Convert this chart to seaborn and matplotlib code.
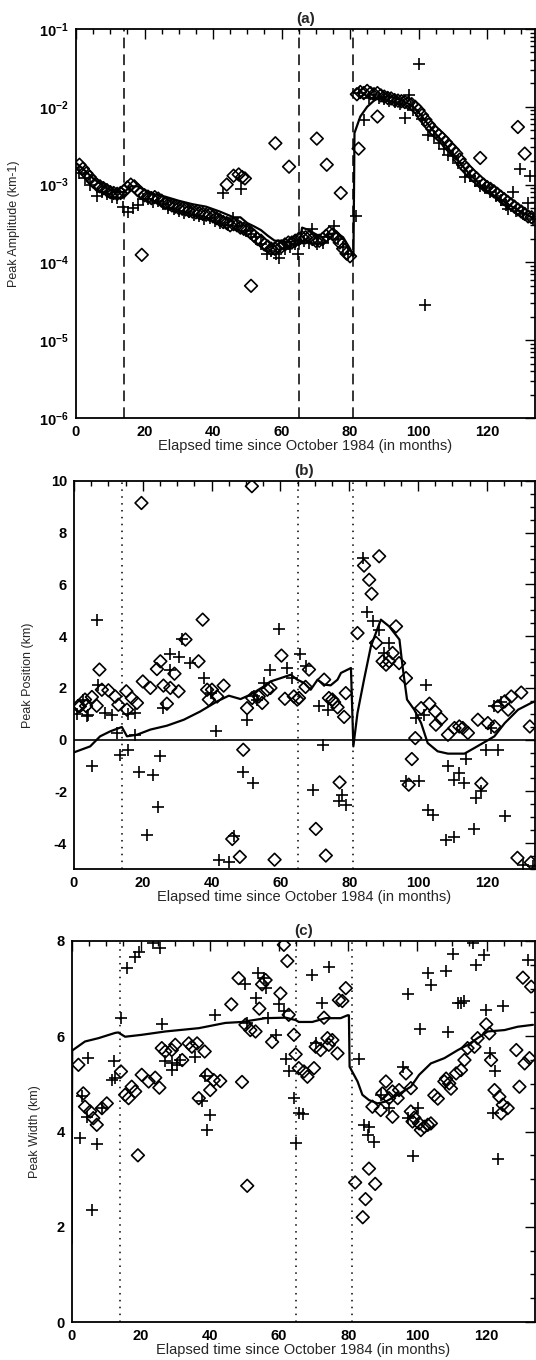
import matplotlib
matplotlib.use("Agg")
import matplotlib.pyplot as plt
from matplotlib.ticker import MultipleLocator, LogLocator, NullFormatter
import seaborn as sns
import numpy as np

# ---------------- data ----------------
event_months = [14, 65, 81]

# (a) Peak amplitude
a_diam_x = [1, 2, 3, 4, 5, 6, 7, 8, 9, 10, 11, 12, 13, 14, 15, 16, 17, 18, 19, 20,
            21, 22, 23, 24, 25, 26, 27, 28, 29, 30, 31, 32, 33, 34, 35, 36, 37, 38, 39, 40,
            41, 42, 43, 44, 45, 46, 47, 48, 49, 50, 51, 52, 53, 54, 55, 56, 57, 58, 59, 60,
            61, 62, 63, 64, 65, 66, 67, 68, 69, 70, 71, 72, 73, 74, 75, 76, 77, 78, 79, 80,
            82, 83, 84, 85, 86, 87, 88, 89, 90, 91, 92, 93, 94, 95, 96, 97, 98, 99, 100,
            101, 102, 103, 104, 105, 106, 107, 108, 109, 110, 111, 112, 113, 114, 115, 116,
            117, 118, 119, 120, 121, 122, 123, 124, 125, 126, 127, 128, 129, 130, 131, 132, 133,
            19.2, 51.1, 44, 46, 47.5, 48.5, 49.3, 58.2, 62.2, 70.3, 73.2, 77.3, 82.5, 88,
            118, 129, 131]
a_diam_y = [1.8e-3, 1.6e-3, 1.4e-3, 1.25e-3, 1.1e-3, 1.0e-3, 9.5e-4, 9e-4, 8.5e-4, 8e-4,
            7.8e-4, 7.6e-4, 7.8e-4, 8.2e-4, 9.2e-4, 1.0e-3, 9.5e-4, 8.5e-4, 7.8e-4, 7.3e-4,
            7e-4, 6.7e-4, 6.9e-4, 6.6e-4, 6.2e-4, 5.8e-4, 5.6e-4, 5.4e-4, 5.2e-4, 5e-4,
            4.9e-4, 4.8e-4, 4.6e-4, 4.5e-4, 4.4e-4, 4.3e-4, 4.2e-4, 4.1e-4, 4.1e-4, 3.9e-4,
            3.7e-4, 3.5e-4, 3.3e-4, 3.2e-4, 3.0e-4, 3.1e-4, 3.0e-4, 2.8e-4, 2.7e-4, 2.6e-4,
            2.4e-4, 2.2e-4, 2.0e-4, 1.9e-4, 1.7e-4, 1.6e-4, 1.5e-4, 1.5e-4, 1.6e-4, 1.6e-4,
            1.7e-4, 1.8e-4, 1.8e-4, 1.9e-4, 2.0e-4, 2.1e-4, 2.1e-4, 2.1e-4, 2.0e-4, 1.9e-4,
            1.9e-4, 2.0e-4, 2.2e-4, 2.4e-4, 2.3e-4, 2.1e-4, 1.8e-4, 1.5e-4, 1.3e-4, 1.2e-4,
            1.45e-2, 1.55e-2, 1.5e-2, 1.6e-2, 1.5e-2, 1.45e-2, 1.5e-2, 1.4e-2, 1.35e-2, 1.3e-2,
            1.28e-2, 1.22e-2, 1.2e-2, 1.18e-2, 1.15e-2, 1.12e-2, 1.08e-2, 1.0e-2, 9e-3,
            7.8e-3, 6.8e-3, 5.9e-3, 5.2e-3, 4.7e-3, 4.3e-3, 3.9e-3, 3.5e-3, 3.1e-3, 2.8e-3,
            2.5e-3, 2.1e-3, 1.8e-3, 1.6e-3, 1.45e-3, 1.3e-3, 1.2e-3, 1.08e-3, 1.0e-3, 9.3e-4,
            8.8e-4, 8.2e-4, 7.6e-4, 7e-4, 6.5e-4, 6e-4, 5.6e-4, 5.2e-4, 4.8e-4, 4.5e-4,
            4.2e-4, 3.9e-4, 3.8e-4,
            1.25e-4, 5e-5, 1.0e-3, 1.3e-3, 1.35e-3, 1.25e-3, 1.2e-3, 3.4e-3, 1.7e-3, 3.9e-3,
            1.8e-3, 7.8e-4, 2.9e-3, 7.5e-3, 2.2e-3, 5.5e-3, 2.5e-3]

a_plus_x = [1, 2.5, 4, 6, 7.5, 9, 10.5, 12, 13.8, 15.2, 16.7, 18.1, 19.5, 21, 22.5, 24,
            25.5, 27, 28.5, 30, 31.5, 33, 34.5, 36, 37.5, 39, 40.5, 42, 43, 44.5, 45.7, 47,
            48.2, 49.5, 51, 52.5, 54, 55.9, 57, 58.5, 59.4, 61, 62.5, 64, 64.9, 66.5, 68, 69,
            70.5, 72, 73.5, 75.3, 76.5, 78, 79.5, 81.8,
            82.5, 84, 85.5, 87, 88.5, 90, 91.5, 93, 94.5, 96.1, 97.1, 98.5, 100, 101, 102,
            102.9, 104.5, 106, 107.5, 108.7, 110, 111.5, 113.6, 115, 116.5, 118, 119.5, 121,
            122.5, 124, 125.5, 126.2, 127.5, 128.5, 129.7, 130.5, 132, 132.5, 133.5]
a_plus_y = [1.4e-3, 1.2e-3, 1.0e-3, 7.2e-4, 8e-4, 7.5e-4, 7e-4, 6.8e-4, 5.2e-4, 4.5e-4,
            5e-4, 5.5e-4, 6.5e-4, 6.5e-4, 6e-4, 6.2e-4, 5.6e-4, 5e-4, 4.8e-4, 4.6e-4, 4.3e-4,
            4.4e-4, 4.1e-4, 3.9e-4, 3.6e-4, 3.7e-4, 3.4e-4, 3.2e-4, 7.7e-4, 3.0e-4, 3.7e-4,
            2.9e-4, 8.9e-4, 2.5e-4, 2.3e-4, 2.1e-4, 1.7e-4, 1.3e-4, 1.4e-4, 1.3e-4, 1.15e-4,
            1.5e-4, 1.6e-4, 1.7e-4, 1.3e-4, 1.9e-4, 1.8e-4, 2.7e-4, 1.7e-4, 1.8e-4, 2.1e-4,
            2.9e-4, 2.0e-4, 1.6e-4, 1.3e-4, 4e-4,
            1.5e-2, 6.8e-3, 1.3e-2, 1.4e-2, 1.3e-2, 1.25e-2, 1.2e-2, 1.15e-2, 1.1e-2, 7.2e-3,
            1.4e-2, 9e-3, 3.5e-2, 7e-3, 2.8e-5, 4.4e-3, 4.2e-3, 3.4e-3, 2.9e-3, 2.4e-3,
            2.3e-3, 1.9e-3, 1.26e-3, 1.3e-3, 1.1e-3, 9.5e-4, 9e-4, 8e-4, 7.2e-4, 6.4e-4,
            5.5e-4, 4.8e-4, 8e-4, 4.6e-4, 1.6e-3, 4.2e-4, 5.8e-4, 1.3e-3, 3.6e-4]

a_line_x = [0, 2, 5, 8, 11, 14, 16, 18, 20, 23, 26, 30, 34, 38, 42, 46, 48, 50, 52, 54,
            56, 58, 60, 62, 64, 65.5, 66, 68, 70, 72, 74, 76, 78, 80, 80.6, 81, 81.3, 83,
            85, 87, 89, 91, 93, 95, 97, 99, 101, 103, 105, 107, 109, 111, 113, 115, 117,
            119, 121, 123, 125, 127, 129, 131, 133, 134]
a_line_y = [1.9e-3, 1.6e-3, 1.2e-3, 9.5e-4, 8e-4, 8e-4, 9.5e-4, 9.5e-4, 8.5e-4, 7.5e-4,
            7e-4, 6.2e-4, 5.6e-4, 5.2e-4, 4.5e-4, 3.8e-4, 3.8e-4, 3.2e-4, 2.9e-4, 2.6e-4,
            2.2e-4, 1.9e-4, 1.9e-4, 1.8e-4, 1.9e-4, 2.0e-4, 2.8e-4, 2.6e-4, 2.3e-4, 2.1e-4,
            2.3e-4, 2.4e-4, 2.1e-4, 1.5e-4, 1.3e-4, 1.2e-4, 4.6e-3, 7.5e-3, 1.0e-2, 1.2e-2,
            1.35e-2, 1.35e-2, 1.3e-2, 1.2e-2, 1.1e-2, 9.5e-3, 7.5e-3, 5.8e-3, 4.5e-3, 3.6e-3,
            2.8e-3, 2.2e-3, 1.7e-3, 1.35e-3, 1.1e-3, 9e-4, 7.8e-4, 6.8e-4, 6e-4, 5.3e-4,
            4.7e-4, 4.2e-4, 3.8e-4, 3.7e-4]

# (b) Peak position
b_diam_x = [1.2, 1.7, 3.2, 3.5, 5.2, 6.6, 7.4, 8.1, 10, 12, 12.9, 15.2, 15.4, 16.8, 18.3,
            20, 22.2, 24.1, 25.1, 26, 27, 28, 29.2, 30.4, 32.4, 36.2, 37.4, 38.7, 39.2, 40.1,
            41.6, 43.5, 49.2, 50.3, 51.8, 53.7, 54.7, 56.2, 57.1, 60.3, 61.3, 63.9, 64.9,
            65.4, 67.3, 68.3, 72.7, 74.1, 75.1, 75.6, 76.6, 78.5, 79,
            19.6, 51.7, 46, 48.2, 58.3, 70.3, 73.2, 77.2,
            82.4, 84.3, 85.8, 86.5, 88.7, 87.8, 89.7, 90.7, 91.6, 92.6, 93.6, 94.5, 96.5,
            97.3, 98.2, 99.2, 100.9, 103.3, 105, 105.2, 106.7, 108.7, 110.6, 112, 113, 114.5,
            117.4, 118.4, 120.3, 122.2, 123.2, 125.2, 126.2, 127.1, 128.9, 130, 132.5, 132.8]
b_diam_y = [1.3, 1.29, 1.55, 1.3, 1.65, 1.31, 2.71, 1.93, 1.91, 1.67, 1.35, 1.87, 1.16,
            1.61, 1.42, 2.25, 2.0, 2.73, 3.03, 2.09, 1.39, 2.0, 2.55, 1.87, 3.87, 3.03, 4.64,
            1.93, 1.55, 1.93, 1.67, 2.09, -0.39, 1.22, 1.61, 1.67, 1.42, 1.93, 2.0, 3.25,
            1.58, 1.67, 1.55, 1.61, 2.04, 2.71, 2.32, 1.61, 1.55, 1.45, 1.25, 0.88, 1.8,
            9.15, 9.8, -3.84, -4.53, -4.64, -3.45, -4.48, -1.65,
            4.12, 6.73, 6.18, 5.64, 7.09, 3.74, 3.03, 2.9, 3.03, 3.35, 4.38, 2.96, 2.38,
            -1.74, -0.75, 0.06, 1.22, 1.39, 1.09, 0.58, 0.8, 0.19, 0.45, 0.51, 0.45, 0.26,
            0.77, -1.7, 0.64, 0.51, 1.29, 1.48, 1.16, 1.67, -4.57, 1.82, 0.51, -4.75]

b_plus_x = [1.0, 2.7, 3.8, 4.2, 5.2, 6.6, 7.1, 9, 11, 12.4, 13.4, 15.8, 15.8, 17.8, 17.8,
            19, 21.2, 23.1, 24.3, 25.1, 26, 28, 28, 30.4, 31.4, 33.8, 37.7, 39.7, 41.3, 42.1,
            45, 46.6, 49.2, 50.3, 52.1, 52.3, 53.3, 55.2, 57.1, 59.6, 62, 63.5, 65.7, 67.3,
            69.6, 71.2, 72.5, 73.7, 77, 78, 79,
            83.9, 85.3, 86.8, 88.7, 90.2, 91.6, 96.5, 99.4, 100.4, 101.8, 102.3, 103, 104.3,
            108.2, 108.7, 110.6, 110.6, 112, 113.5, 114, 116.4, 116.9, 118.4, 119.8, 121.3,
            122.2, 123.2, 124.2, 125.2, 130.5, 133.5]
b_plus_y = [1.0, 1.55, 0.9, 0.97, -1.03, 4.61, 2.13, 1.03, 0.97, 0.26, -0.58, -0.39, 1.0,
            1.03, 0.19, -1.26, -3.7, -1.35, -2.6, -0.62, 1.22, 3.32, 2.71, 3.2, 3.89, 2.96,
            2.38, 1.8, 0.32, -4.66, -4.74, -3.74, -1.26, 0.77, -1.67, 1.67, 1.55, 2.19, 2.71,
            4.28, 2.77, 2.38, 3.32, 2.83, -1.93, 1.29, -0.19, 1.16, -2.38, -2.13, -2.51,
            7.02, 4.92, 4.57, 4.25, 3.35, 3.74, -1.61, 0.84, -1.61, 0.97, 2.13, -2.71, -2.9,
            -3.87, -1.03, -1.55, -3.76, -1.29, -1.67, -0.75, -3.45, -2.25, -2.0, -0.39, 0.45,
            1.29, -0.39, 1.44, -2.94, -4.85, -4.9]

b_line_x = [0, 4.7, 7.6, 10.5, 13.9, 15.4, 18.3, 22.2, 27, 31.9, 36.7, 41.6, 45, 48.4,
            51.3, 55.2, 57.1, 60.1, 63, 64.9, 66.9, 68.8, 70.8, 72.7, 74.6, 76.6, 77.6, 80.5,
            81.2, 82.4, 84.3, 86.3, 89.2, 91.6, 94.6, 95.5, 96.8, 98.9, 100.9, 102.8, 105.7,
            108.7, 113.5, 116.4, 119.8, 122.2, 125.2, 129.1, 132.9, 134]
b_line_y = [-0.49, -0.26, 0.13, 0.32, 0.49, 0.13, 0.19, 0.39, 0.54, 0.77, 1.09, 1.48, 1.7,
            1.57, 1.74, 2.06, 2.25, 2.38, 2.51, 2.32, 2.19, 1.93, 2.32, 2.13, 2.1, 2.32, 2.58,
            2.77, -0.26, 1.03, 2.32, 3.61, 4.64, 4.38, 3.87, 2.83, 1.55, 1.16, 0.64, -0.13,
            -0.45, -0.54, -0.54, -0.32, -0.06, 0.13, 0.64, 1.16, 1.42, 1.48]

# (c) Peak width
c_diam_x = [2, 3.4, 3.9, 5.4, 6.3, 7.3, 8.8, 10.2, 14.3, 15.5, 16.5, 17.4, 18.4, 19.2, 20.3,
            22.3, 24.2, 25.4, 26.1, 27.1, 29, 30, 32, 33.9, 34.8, 36.3, 36.8, 38.5, 39.2, 40.1,
            41.1, 43, 46.2, 48.3, 49.3, 50.3, 50.8, 51.7, 53.2, 54.3, 55.1, 56.1, 58, 60.4,
            61.4, 62.4, 62.8, 64.3, 64.8, 65.7, 67.2, 68.2, 70.1, 70.6, 72, 73, 74, 74.4,
            75.4, 76.9, 77.3, 78.3, 79.3,
            82, 84.2, 85, 86, 87.8, 87, 89.4, 89.9, 90.9, 91.8, 92.8, 92.8, 94.3, 94.7, 96.7,
            98.1, 98.1, 98.6, 99.1, 100.5, 101, 102, 103, 103.9, 104.9, 105.9, 107.8, 108.3,
            109.2, 109.7, 111.2, 112.6, 113.6, 114.5, 116.5, 117.4, 119.9, 120.8, 121.3,
            122.3, 123.7, 124.2, 124.7, 126.1, 128.6, 129.5, 130.5, 131, 132.4, 132.9]
c_diam_y = [5.4, 4.8, 4.52, 4.42, 4.28, 4.14, 4.49, 4.59, 5.26, 4.77, 4.7, 4.94, 4.84, 3.5,
            5.19, 5.05, 5.13, 4.92, 5.75, 5.68, 5.71, 5.82, 5.5, 5.85, 5.78, 5.85, 4.7, 5.68,
            5.19, 4.87, 5.08, 5.06, 6.67, 7.22, 5.04, 6.24, 2.86, 6.13, 6.1, 6.58, 7.09, 7.18,
            5.88, 6.9, 7.92, 7.58, 6.45, 6.03, 5.62, 5.33, 5.26, 5.15, 5.33, 5.78, 5.71, 6.39,
            5.96, 5.82, 5.92, 5.64, 6.76, 6.74, 7.01,
            2.93, 2.2, 2.58, 3.22, 2.9, 4.52, 4.45, 4.8, 5.05, 4.7, 4.84, 4.31, 4.7, 4.87,
            5.22, 4.91, 4.42, 4.21, 4.29, 4.17, 4.03, 4.1, 4.14, 4.17, 4.76, 4.69, 5.05, 5.11,
            5.01, 4.9, 5.22, 5.29, 5.5, 5.75, 5.78, 5.96, 6.25, 6.06, 5.5, 4.87, 4.73, 4.38,
            4.56, 4.49, 5.71, 4.94, 7.23, 5.43, 5.54, 7.04]

c_plus_x = [2.6, 3, 4.4, 4.9, 6, 7.3, 8.8, 11.7, 12.4, 12.6, 14.3, 16, 18.4, 19.4, 23.7,
            25.7, 26.1, 27.1, 29, 29, 30.5, 31.4, 35.8, 37.7, 38.5, 39.2, 39.9, 41.4, 50.3,
            50.6, 53.2, 54, 55.6, 56.1, 56.9, 59, 59.9, 61.4, 61.9, 62.8, 64.3, 65, 65.7,
            66.9, 69.6, 70.6, 72.3, 74.4,
            83.1, 84.6, 85.6, 86, 87.5, 89.4, 91.8, 95.7, 97.2, 97.2, 98.6, 100.1, 100.8, 103,
            103.9, 108.3, 108.8, 110.2, 111.7, 112.6, 113.6, 116, 117, 119.4, 119.9, 121.1,
            121.8, 122.3, 123.2, 124.7, 131.9]
c_plus_y = [3.87, 4.75, 4.31, 5.54, 2.35, 3.73, 4.49, 5.08, 5.47, 5.12, 6.39, 7.43, 7.67,
            7.77, 7.96, 7.86, 6.25, 5.47, 5.43, 5.29, 5.4, 5.5, 5.57, 4.63, 5.17, 4.03, 4.35,
            6.45, 7.09, 6.27, 6.81, 7.33, 7.23, 7.01, 6.38, 6.03, 6.67, 6.53, 5.52, 5.26, 4.7,
            3.75, 4.38, 4.36, 7.29, 5.85, 6.7, 7.46,
            5.52, 4.14, 3.93, 4.1, 3.79, 4.77, 4.49, 5.36, 4.28, 6.88, 3.49, 4.49, 6.16, 7.33,
            7.08, 7.36, 6.09, 7.72, 6.7, 6.7, 6.73, 7.96, 7.49, 7.71, 6.55, 5.65, 4.38, 5.26,
            3.42, 6.64, 7.61]

c_line_x = [0, 0.2, 3.9, 7.8, 12.6, 13.5, 15.5, 20.3, 27.1, 36.8, 44.5, 49.3, 56.1, 61.9,
            64.8, 65.7, 69.6, 73.5, 77.8, 79.8, 80.2, 80.4, 82.7, 84.1, 86, 88.5, 90.9, 94.3,
            98.1, 100.5, 103.9, 107.8, 111.7, 114.6, 117.4, 120.3, 125.2, 129, 133.4]
c_line_y = [1.65, 5.7, 5.89, 5.96, 6.07, 6.08, 5.99, 6.03, 6.1, 6.17, 6.28, 6.3, 6.38, 6.39,
            6.34, 6.3, 6.3, 6.38, 6.38, 6.44, 6.44, 5.36, 5.05, 4.77, 4.66, 4.59, 4.63, 4.77,
            4.94, 5.19, 5.43, 5.54, 5.71, 5.82, 5.96, 6.1, 6.13, 6.2, 6.24]

xlabel = "Elapsed time since October 1984 (in months)"
titles = ["(a)", "(b)", "(c)"]
ylabels = ["Peak Amplitude (km-1)", "Peak Position (km)", "Peak Width (km)"]

# ---------------- style ----------------
sns.set_theme(style="white")
plt.rcParams["font.family"] = ["Liberation Sans", "DejaVu Sans"]
plt.rcParams["mathtext.default"] = "regular"
plt.rcParams["axes.unicode_minus"] = False
plt.rcParams["axes.edgecolor"] = "black"
plt.rcParams["axes.linewidth"] = 1.3

fig = plt.figure(figsize=(5.36, 13.6), dpi=100)
W, H = 536.0, 1360.0


def make_axes(left, right, top, bottom):
    return fig.add_axes([left / W, 1 - bottom / H, (right - left) / W, (bottom - top) / H])


axa = make_axes(76, 535, 29, 418)
axb = make_axes(74, 535, 481, 869)
axc = make_axes(71.5, 535, 941, 1322)

panels = [
    (axa, a_diam_x, a_diam_y, a_plus_x, a_plus_y, a_line_x, a_line_y),
    (axb, b_diam_x, b_diam_y, b_plus_x, b_plus_y, b_line_x, b_line_y),
    (axc, c_diam_x, c_diam_y, c_plus_x, c_plus_y, c_line_x, c_line_y),
]

label_x = [-0.122, -0.087, -0.066]

for i, (ax, dx, dy, px, py, lx, ly) in enumerate(panels):
    if i == 0:
        ax.set_yscale("log")
    vstyle = (0, (7, 4)) if i == 0 else (0, (1, 3.5))
    for m in event_months:
        ax.axvline(m, color="black", lw=1.1, ls=vstyle, zorder=1)
    if i == 1:
        ax.axhline(0, color="black", lw=1.2, zorder=1)
    sns.lineplot(x=lx, y=ly, estimator=None, sort=False, color="black", lw=1.6,
                 ax=ax, zorder=3)
    sns.scatterplot(x=dx, y=dy, marker="D", s=42, facecolor="none", edgecolor="black",
                    linewidth=1.2, ax=ax, zorder=4)
    sns.scatterplot(x=px, y=py, marker="+", s=85, color="black", linewidth=1.2,
                    ax=ax, zorder=4)

    ax.set_xlim(0, 134)
    ax.xaxis.set_major_locator(MultipleLocator(20))
    ax.xaxis.set_minor_locator(MultipleLocator(5))
    if i == 0:
        ax.set_ylim(1e-6, 1e-1)
        ax.yaxis.set_major_locator(LogLocator(base=10, numticks=10))
        ax.yaxis.set_minor_locator(LogLocator(base=10, subs=np.arange(2, 10), numticks=20))
        ax.yaxis.set_minor_formatter(NullFormatter())
    elif i == 1:
        ax.set_ylim(-5, 10)
        ax.yaxis.set_major_locator(MultipleLocator(2))
        ax.yaxis.set_minor_locator(MultipleLocator(0.5))
    else:
        ax.set_ylim(0, 8)
        ax.yaxis.set_major_locator(MultipleLocator(2))
        ax.yaxis.set_minor_locator(MultipleLocator(0.5))

    ax.tick_params(which="both", direction="in", top=True, right=True, colors="black",
                   labelsize=10.5, width=1.0)
    ax.tick_params(which="major", length=7, pad=5)
    ax.tick_params(which="minor", length=3.5)
    for lab in ax.get_xticklabels() + ax.get_yticklabels():
        lab.set_fontweight("bold")
    for sp in ax.spines.values():
        sp.set_visible(True)
        sp.set_linewidth(1.3)
    ax.set_title(titles[i], fontsize=11, fontweight="bold", pad=4)
    ax.set_xlabel(xlabel, fontsize=10.5, labelpad=0)
    ax.set_ylabel(ylabels[i], fontsize=9)
    ax.yaxis.set_label_coords(label_x[i], 0.5)

fig.savefig("out.png", dpi=100)
